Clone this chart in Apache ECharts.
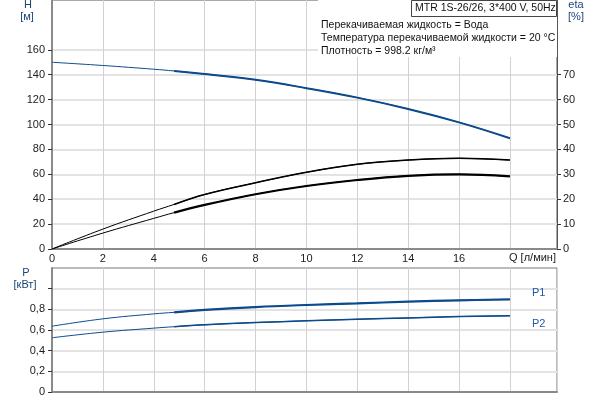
<!DOCTYPE html>
<html>
<head>
<meta charset="utf-8">
<script src="https://cdn.jsdelivr.net/npm/echarts@6/dist/echarts.min.js"></script>
<style>
  html, body { margin: 0; padding: 0; background: #fff; }
</style>
</head>
<body>
<div id="myEcharts" style="width: 600px; height: 400px;"></div>
<script>
// расход, л/мин
const flowQ = [0, 2, 4, 4.8, 6, 8, 10, 12, 14, 16, 18];
// напор H, м
const headH = [150, 147.4, 144.4, 143, 140.5, 135.9, 129.2, 121.6, 112.5, 101.7, 89.0];
// КПД, %
const etaUpper = [0, 8.0, 15.2, 17.9, 21.9, 26.6, 30.8, 34.0, 35.7, 36.4, 35.7];
const etaLower = [0, 6.4, 12.3, 14.6, 17.7, 22.0, 25.3, 27.7, 29.4, 30.0, 29.2];
// мощность, кВт
const powerP1 = [0.637, 0.708, 0.756, 0.771, 0.794, 0.822, 0.842, 0.858, 0.874, 0.887, 0.896];
const powerP2 = [0.525, 0.579, 0.618, 0.632, 0.650, 0.672, 0.689, 0.704, 0.717, 0.73, 0.737];

const hTicks = [0, 20, 40, 60, 80, 100, 120, 140, 160];
const etaTicks = [0, 10, 20, 30, 40, 50, 60, 70];
const pTicks = [0, 0.2, 0.4, 0.6, 0.8, 1.0];

const infoLines = [
  "Перекачиваемая жидкость = Вода",
  "Температура перекачиваемой жидкости = 20 °C",
  "Плотность = 998.2 кг/м³",
];
const titleText = "MTR 1S-26/26, 3*400 V, 50Hz";

// с этой точки линия рисуется толстой (рабочий диапазон)
const splitIdx = 3;

function seg(values, from, to) {
  const out = [];
  for (let i = from; i <= to; i++) {
    out.push([flowQ[i], values[i]]);
  }
  return out;
}

const font = "Arial, 'Liberation Sans', sans-serif";
const blue = "#0d4a8c";

// тонкая линия на весь диапазон + толстая поверх в рабочей зоне
function lineSeries(values, xi, yi, color, thin, thick, endLabel) {
  const base = {
    type: "line",
    smooth: 0.4,
    symbol: "none",
    xAxisIndex: xi,
    yAxisIndex: yi,
    silent: true,
    z: 5,
  };
  const s1 = Object.assign({}, base, {
    data: seg(values, 0, flowQ.length - 1),
    lineStyle: { color: color, width: thin },
  });
  const s2 = Object.assign({}, base, {
    data: seg(values, splitIdx, flowQ.length - 1),
    lineStyle: { color: color, width: thick },
  });
  if (endLabel) {
    s2.endLabel = endLabel;
  }
  return [s1, s2];
}

const xCommon = {
  type: "value",
  min: 0,
  max: 19.85,
  interval: 2,
  axisLine: { show: true, onZero: false, lineStyle: { color: "#8a8a8a", width: 2 } },
  axisTick: { show: false },
  splitLine: { show: true, lineStyle: { color: "#d2d2d2", width: 1 } },
};

function txt(x, y, text, opts) {
  return {
    type: "text", x: x, y: y, z: 5,
    style: Object.assign({
      text: text, fontSize: 11, fontFamily: font, fill: "#1e4478",
      align: "center", verticalAlign: "middle",
    }, opts || {}),
  };
}

const option = {
  animation: false,
  textStyle: { fontFamily: font },
  grid: [
    { left: 52, top: 0, width: 505, height: 249, show: true, borderColor: "#555", borderWidth: 1 },
    { left: 52, top: 268, width: 505, height: 124, show: true, borderColor: "#777", borderWidth: 1 },
  ],
  xAxis: [
    Object.assign({}, xCommon, {
      gridIndex: 0,
      axisLabel: {
        color: "#222",
        fontSize: 11,
        margin: 4,
        formatter: function (v) {
          return v % 2 === 0 && v < 18 ? String(v) : "";
        },
      },
    }),
    Object.assign({}, xCommon, {
      gridIndex: 1,
      axisLabel: { show: false },
    }),
  ],
  yAxis: [
    {
      type: "value",
      gridIndex: 0,
      min: 0,
      max: 200,
      interval: 20,
      axisLine: { show: true, lineStyle: { color: "#8a8a8a", width: 2 } },
      axisTick: { show: true, customValues: hTicks, length: 4, lineStyle: { color: "#333" } },
      axisLabel: { color: "#222", fontSize: 11, margin: 7, customValues: hTicks },
      splitLine: { show: true, lineStyle: { color: "#e3e3e3", width: 2 } },
    },
    {
      type: "value",
      gridIndex: 0,
      position: "right",
      min: 0,
      max: 100,
      interval: 10,
      axisLine: { show: true, lineStyle: { color: "#555", width: 1 } },
      axisTick: { show: true, customValues: etaTicks, length: 4, lineStyle: { color: "#333" } },
      axisLabel: { color: "#222", fontSize: 11, margin: 6, customValues: etaTicks },
      splitLine: { show: false },
    },
    {
      type: "value",
      gridIndex: 1,
      min: 0,
      max: 1.2,
      interval: 0.2,
      axisLine: { show: true, lineStyle: { color: "#8a8a8a", width: 2 } },
      axisTick: { show: true, customValues: pTicks, length: 4, lineStyle: { color: "#333" } },
      axisLabel: {
        color: "#222",
        fontSize: 11,
        margin: 7,
        customValues: pTicks.slice(0, 5),
        formatter: function (v) {
          return v === 0 ? "0" : v.toFixed(1).replace(".", ",");
        },
      },
      splitLine: { show: true, lineStyle: { color: "#e3e3e3", width: 2 } },
    },
  ],
  graphic: [
    // белая подложка под текстом
    { type: "rect", shape: { x: 318, y: 0, width: 239, height: 57 }, style: { fill: "#fff" }, z: 3 },
    {
      type: "rect",
      shape: { x: 411.5, y: 0.5, width: 145, height: 16 },
      style: { fill: "#fff", stroke: "#444", lineWidth: 1 },
      z: 4,
    },
    txt(415, 8.5, titleText, { fontSize: 10.5, fill: "#111", align: "left" }),
    txt(321, 25, infoLines[0], { fontSize: 10.5, fill: "#111", align: "left" }),
    txt(321, 38.5, infoLines[1], { fontSize: 10.5, fill: "#111", align: "left" }),
    txt(321, 51.5, infoLines[2], { fontSize: 10.5, fill: "#111", align: "left" }),
    // подписи осей
    txt(28, 5, "H"),
    txt(27, 17, "[м]"),
    txt(576, 5, "eta"),
    txt(576, 17, "[%]"),
    txt(26, 273, "P"),
    txt(25, 285, "[кВт]"),
    txt(509, 258, "Q [л/мин]", { fill: "#222", align: "left" }),
  ],
  series: [].concat(
    lineSeries(headH, 0, 0, blue, 1, 2),
    lineSeries(etaUpper, 0, 1, "#000", 1, 1.5),
    lineSeries(etaLower, 0, 1, "#000", 1, 2.2),
    lineSeries(powerP1, 1, 2, blue, 1, 2.2, {
      show: true, formatter: "P1", color: "#1f5aa6", fontSize: 11, offset: [14, -6],
    }),
    lineSeries(powerP2, 1, 2, blue, 1, 1.5, {
      show: true, formatter: "P2", color: "#1f5aa6", fontSize: 11, offset: [14, 8],
    })
  ),
};

let chart = echarts.init(document.getElementById("myEcharts"));
chart.setOption(option);
window.onresize = function () {
  chart.resize();
};
</script>
</body>
</html>
